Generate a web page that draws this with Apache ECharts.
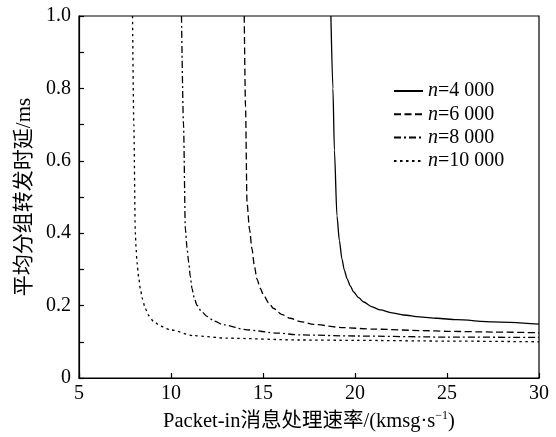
<!DOCTYPE html>
<html>
<head>
<meta charset="utf-8">
<script src="https://cdn.jsdelivr.net/npm/echarts@6/dist/echarts.min.js"></script>
<style>html,body{margin:0;padding:0;background:#fff}#c{width:556px;height:437px}</style>
</head>
<body>
<div id="c"></div>
<script>
const seriesNames = ['n=4 000', 'n=6 000', 'n=8 000', 'n=10 000'];
const xTicks = [5, 10, 15, 20, 25, 30];
const yTicks = [0, 0.2, 0.4, 0.6, 0.8, 1.0];

const x4000 = [18.69, 18.8, 18.88, 19.02, 19.15, 19.29, 19.42, 19.57, 19.75, 19.92, 20.2, 20.47, 20.9, 21.38, 22.0, 22.64, 23.5, 24.46, 25.5, 27.5, 30];
const y4000 = [1.0, 0.80, 0.63, 0.448, 0.38, 0.329, 0.298, 0.274, 0.254, 0.238, 0.222, 0.21, 0.197, 0.188, 0.18, 0.174, 0.169, 0.165, 0.161, 0.155, 0.149];

const x6000 = [13.98, 14.05, 14.13, 14.27, 14.40, 14.53, 14.67, 14.85, 15.03, 15.3, 15.58, 16.0, 16.48, 17.03, 17.75, 19.38, 21.0, 23.7, 25, 27.5, 30];
const y6000 = [1.0, 0.75, 0.485, 0.41, 0.357, 0.31, 0.274, 0.248, 0.229, 0.208, 0.192, 0.176, 0.165, 0.156, 0.148, 0.139, 0.135, 0.131, 0.129, 0.127, 0.125];

const x8000 = [10.57, 10.68, 10.78, 10.87, 10.96, 11.05, 11.14, 11.27, 11.41, 11.65, 11.96, 12.35, 12.86, 14.13, 15.76, 17.03, 20, 25, 30];
const y8000 = [1.0, 0.7, 0.412, 0.36, 0.32, 0.28, 0.247, 0.22, 0.201, 0.184, 0.17, 0.157, 0.147, 0.133, 0.124, 0.119, 0.116, 0.113, 0.112];

const x10000 = [7.91, 7.98, 8.06, 8.10, 8.15, 8.24, 8.33, 8.45, 8.60, 8.8, 9.05, 9.45, 9.96, 11.23, 13.04, 17.0, 20, 25, 30];
const y10000 = [1.0, 0.7, 0.403, 0.36, 0.32, 0.28, 0.247, 0.218, 0.192, 0.172, 0.156, 0.143, 0.133, 0.117, 0.11, 0.105, 0.104, 0.102, 0.10];

const xs = [x4000, x6000, x8000, x10000];
const ys = [y4000, y6000, y8000, y10000];
const dashes = ['solid', [7, 3.5], [7, 3, 2, 3], [2.5, 3.5]];

const FONT = '"Liberation Serif", "Noto Sans CJK SC", serif';

const chart = echarts.init(document.getElementById('c'), null, {renderer: 'canvas'});
chart.setOption({
  animation: false,
  backgroundColor: '#fff',
  grid: {left: 79, right: 17, top: 16, bottom: 57, show: true, borderColor: '#000', borderWidth: 1.2, backgroundColor: 'transparent'},
  legend: {
    orient: 'vertical',
    left: 388,
    top: 76,
    itemWidth: 29,
    itemHeight: 14,
    itemGap: 3.3,
    itemTextGap: 10,
    itemStyle: {opacity: 0},
    data: seriesNames,
    formatter: function (name) {
      return '{i|n}{t|' + name.slice(1) + '}';
    },
    textStyle: {
      color: '#000',
      fontFamily: FONT,
      fontSize: 20,
      rich: {
        i: {fontStyle: 'italic', fontFamily: FONT, fontSize: 20, color: '#000'},
        t: {fontFamily: FONT, fontSize: 20, color: '#000'}
      }
    }
  },
  xAxis: {
    type: 'value',
    min: xTicks[0],
    max: xTicks[xTicks.length - 1],
    interval: 5,
    name: '{t|Packet-in消息处理速率/(kmsg·s}{s|−1}{t|)}',
    nameLocation: 'middle',
    nameGap: 32,
    nameTextStyle: {
      rich: {
        t: {fontFamily: FONT, fontSize: 20.5, color: '#000', lineHeight: 22, verticalAlign: 'bottom'},
        s: {fontFamily: FONT, fontSize: 12, color: '#000', lineHeight: 22, verticalAlign: 'top'}
      }
    },
    axisLine: {show: true, onZero: false, lineStyle: {color: '#000', width: 1.2}},
    axisTick: {show: true, inside: true, length: 5, lineStyle: {color: '#000', width: 1.2}},
    axisLabel: {color: '#000', fontFamily: FONT, fontSize: 20, margin: 6},
    splitLine: {show: false}
  },
  yAxis: {
    type: 'value',
    min: yTicks[0],
    max: yTicks[yTicks.length - 1],
    interval: 0.2,
    name: '平均分组转发时延/ms',
    nameLocation: 'middle',
    nameGap: 43,
    nameTextStyle: {fontFamily: FONT, fontSize: 21, color: '#000'},
    axisLine: {show: true, onZero: false, lineStyle: {color: '#000', width: 1.2}},
    axisTick: {show: true, inside: true, length: 5, lineStyle: {color: '#000', width: 1.2}},
    minorTick: {show: true, splitNumber: 2, length: 5, lineStyle: {color: '#000', width: 1.2}},
    axisLabel: {
      color: '#000', fontFamily: FONT, fontSize: 20, margin: 8,
      formatter: function (v) { return v === 0 ? '0' : v.toFixed(1); }
    },
    splitLine: {show: false}
  },
  series: seriesNames.map(function (n, i) {
    return {
      name: n,
      type: 'line',
      symbol: 'none',
      showSymbol: false,
      smooth: 0.25,
      smoothMonotone: 'x',
      clip: true,
      color: '#000',
      lineStyle: {color: '#000', width: 1.3, type: dashes[i]},
      data: xs[i].map(function (x, j) { return [x, ys[i][j]]; })
    };
  })
});
</script>
</body>
</html>
